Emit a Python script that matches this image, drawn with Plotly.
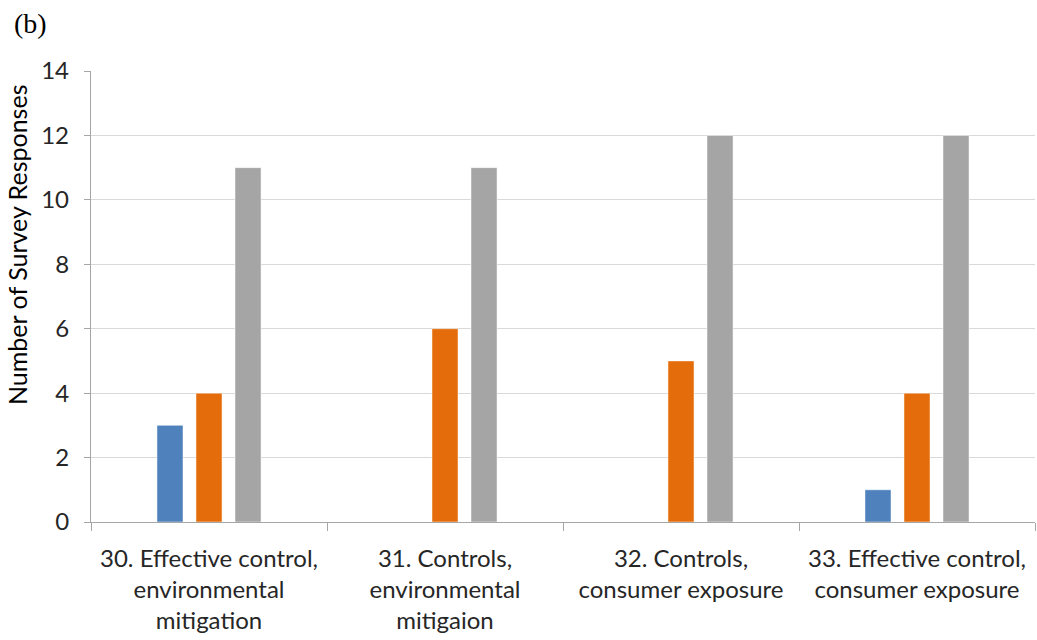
import plotly.graph_objects as go

categories = [
    "30. Effective control,<br>environmental<br>mitigation",
    "31. Controls,<br>environmental<br>mitigaion",
    "32. Controls,<br>consumer exposure",
    "33. Effective control,<br>consumer exposure",
]
series_a = [3, 0, 0, 1]
series_b = [4, 6, 5, 4]
series_c = [11, 11, 12, 12]
y_ticks = [0, 2, 4, 6, 8, 10, 12, 14]

colors = ["#4F81BD", "#E46C0A", "#A5A5A5"]
font_family = "Lato, 'Open Sans', sans-serif"

fig = go.Figure()
for vals, col in zip([series_a, series_b, series_c], colors):
    fig.add_trace(go.Bar(
        x=categories, y=vals, marker=dict(color=col, line=dict(color="rgba(255,255,255,0.6)", width=0.8)),
        showlegend=False,
    ))

fig.update_layout(
    width=1037, height=640,
    margin=dict(l=91, r=2, t=71, b=118),
    barmode="group", bargap=0.504, bargroupgap=0.333,
    plot_bgcolor="white", paper_bgcolor="white",
    font=dict(family=font_family, size=24, color="#333333"),
    xaxis=dict(
        showline=True, linecolor="#A6A6A6", linewidth=1.3,
        ticks="outside", tickson="boundaries", ticklen=8, tickcolor="#A6A6A6",
        tickfont=dict(size=24, color="#262626"), showgrid=False, ticklabelstandoff=15,
    ),
    yaxis=dict(
        range=[0, 14], tickvals=y_ticks, showgrid=True, gridcolor="#D9D9D9", gridwidth=1.2,
        showline=True, linecolor="#A6A6A6", linewidth=1.3,
        ticks="outside", ticklen=6, tickcolor="#A6A6A6",
        tickfont=dict(size=24, color="#262626"), zeroline=False, ticklabelstandoff=10,
    ),
    annotations=[
        dict(text="Number of Survey Responses", xref="paper", yref="paper",
             x=(17 - 91) / 944, y=(522 - 245) / 451, textangle=-90, showarrow=False,
             font=dict(size=25, color="#000000"), xanchor="center", yanchor="middle"),
        dict(text="(b)", xref="paper", yref="paper", x=(12 - 91) / 944, y=(522 - 24) / 451,
             showarrow=False, xanchor="left", yanchor="middle",
             font=dict(family="'Liberation Serif', 'Times New Roman', serif", size=28, color="#000000")),
    ],
)

fig.write_html("out.html")
